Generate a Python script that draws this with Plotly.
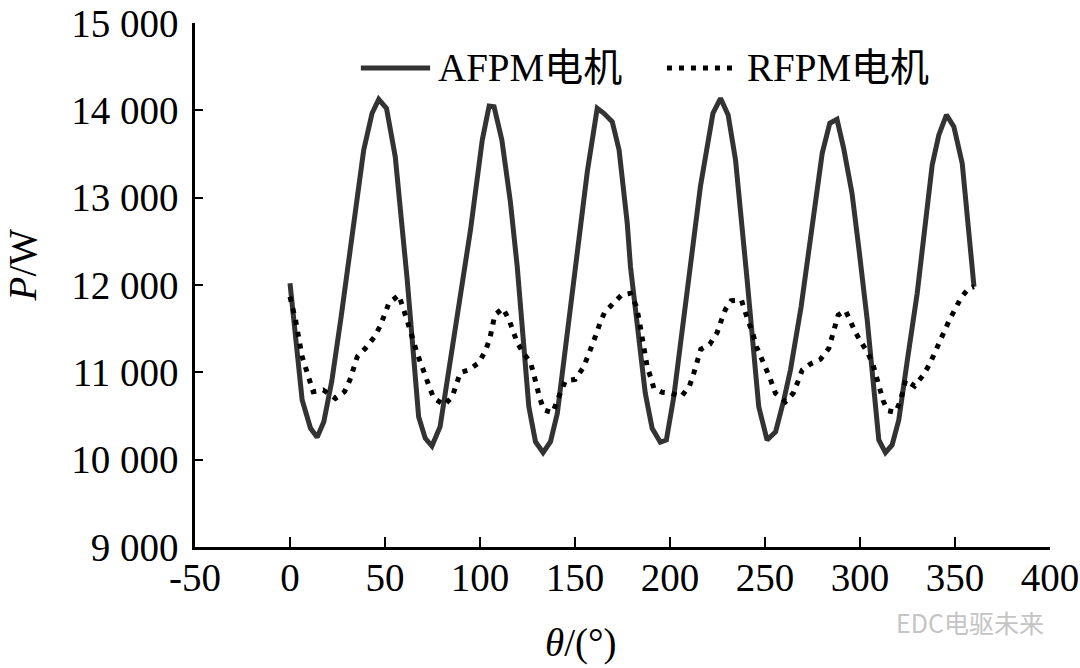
import plotly.graph_objects as go

# AFPM machine power vs rotor angle
afpm_theta = [0, 3.5, 6.4, 10.8, 14.3, 17.8, 22, 27, 32, 38.8, 43.2, 46.7, 50.8, 55.4, 61.7, 65,
              67.7, 71.2, 74.7, 79, 84.5, 90, 95, 101.2, 104.8, 107.4, 111.5, 116, 119.6, 125.7,
              129.2, 133.2, 137.1, 140.7, 146, 151.2, 156.5, 161.7, 165.2, 169.6, 173.2, 177.5,
              179.2, 187, 190.6, 194.9, 198.1, 202, 209, 216, 222.6, 226.6, 230.6, 234.5, 240.6,
              246.7, 251.1, 255.6, 259.9, 263.4, 269, 274.5, 280.1, 284.1, 287.9, 291.4, 295.8,
              299.5, 303.8, 309.9, 313.4, 316.9, 320.4, 325, 330.1, 338, 341.5, 345.5, 349.4,
              353.8, 360]
afpm_power = [12020, 11250, 10683, 10359, 10256, 10435, 10900, 11650, 12450, 13546, 13966, 14126,
              14023, 13469, 12057, 11100, 10492, 10244, 10156, 10378, 11179, 11940, 12630, 13660,
              14050, 14042, 13660, 12950, 12209, 10607, 10206, 10080, 10206, 10531, 11500, 12439,
              13300, 14023, 13966, 13870, 13546, 12706, 12209, 10760, 10359, 10199, 10225, 10721,
              11905, 13126, 13966, 14138, 13947, 13431, 12057, 10607, 10225, 10320, 10683, 11027,
              11750, 12650, 13508, 13852, 13897, 13565, 13050, 12400, 11599, 10225, 10080, 10168,
              10454, 11150, 11905, 13374, 13718, 13947, 13813, 13393, 11981]

# RFPM machine power vs rotor angle
rfpm_theta = [0, 2.9, 6.4, 12.2, 17.5, 23.9, 28.7, 31.5, 35.4, 39.7, 44.5, 47.3, 49.7, 52, 57.3,
              59.6, 61.3, 66.9, 69.4, 71.3, 73.6, 75.7, 81.3, 85.4, 87.6, 89.7, 94.1, 99.4, 102.9,
              105.2, 107.8, 112, 115.2, 117.3, 119.6, 122.7, 126.6, 128.3, 129.7, 131.5, 133.6,
              138.3, 140.6, 142.9, 145, 150.1, 154.1, 156.7, 159.2, 161.2, 163.4, 165.5, 170.1,
              174.5, 179.2, 182.2, 183.6, 184.8, 185.9, 187.1, 188, 190.1, 191.5, 195.9, 200.8,
              205.9, 210.3, 212.5, 214.6, 216.2, 220.9, 224.8, 226.9, 229.2, 232.2, 237.6, 239.4,
              241.8, 243.8, 245.5, 248.5, 250.8, 253.3, 255.5, 260.8, 264.8, 267.3, 269.6, 273.9,
              279.2, 283.6, 285.4, 287.1, 288.5, 292.4, 295, 297.6, 300.6, 304.1, 306.9, 308.7,
              310.4, 312.2, 314.6, 318.7, 321.3, 324, 328.7, 333.3, 336.7, 339.2, 342, 344.5,
              347.3, 350.3, 353.3, 357.3, 360]
rfpm_power = [11866, 11599, 11179, 10778, 10797, 10702, 10778, 10912, 11179, 11275, 11408, 11523,
              11656, 11790, 11885, 11752, 11618, 11218, 11084, 10958, 10817, 10702, 10626, 10721,
              10866, 10996, 11027, 11110, 11248, 11390, 11656, 11733, 11607, 11465, 11340, 11225,
              11110, 10977, 10835, 10702, 10569, 10538, 10675, 10817, 10904, 10920, 11046, 11179,
              11305, 11439, 11580, 11683, 11790, 11885, 11905, 11760, 11618, 11477, 11340, 11206,
              11065, 10924, 10817, 10771, 10760, 10721, 10847, 10989, 11122, 11264, 11321, 11454,
              11588, 11722, 11820, 11828, 11702, 11561, 11427, 11294, 11160, 11027, 10893, 10760,
              10664, 10760, 10893, 11027, 11096, 11149, 11275, 11408, 11542, 11656, 11706, 11580,
              11458, 11344, 11225, 11084, 10950, 10817, 10675, 10561, 10542, 10675, 10912, 10843,
              10969, 11096, 11225, 11351, 11485, 11611, 11733, 11859, 11962, 11981]

x_ticks = [-50, 0, 50, 100, 150, 200, 250, 300, 350, 400]
y_ticks = [9000, 10000, 11000, 12000, 13000, 14000, 15000]
y_tick_labels = ["9 000", "10 000", "11 000", "12 000", "13 000", "14 000", "15 000"]

serif = "Liberation Serif, Times New Roman, Noto Sans CJK SC, serif"

fig = go.Figure()
fig.add_trace(go.Scatter(x=afpm_theta, y=afpm_power, mode="lines", name="AFPM电机",
                         line=dict(color="#333333", width=5)))
fig.add_trace(go.Scatter(x=rfpm_theta, y=rfpm_power, mode="lines", name="RFPM电机",
                         line=dict(color="#000000", width=5, dash="5px,7px")))

fig.update_layout(
    width=1080, height=668,
    margin=dict(l=195, r=30, t=23, b=121),
    plot_bgcolor="white", paper_bgcolor="white",
    showlegend=False,
    font=dict(family=serif, size=39, color="black"),
)
fig.update_xaxes(
    range=[-50, 400], tickvals=x_ticks, ticktext=[str(v) for v in x_ticks],
    showgrid=False, zeroline=False, showline=True, linecolor="black", linewidth=2.5,
    ticks="inside", ticklen=10, tickwidth=2, tickcolor="black", automargin=False,
    ticklabelstandoff=-6,
    tickfont=dict(family=serif, size=39),
)
fig.update_yaxes(
    range=[9000, 15000], tickvals=y_ticks, ticktext=y_tick_labels,
    showgrid=False, zeroline=False, showline=True, linecolor="black", linewidth=2.5,
    ticks="inside", ticklen=8, tickwidth=2, tickcolor="black", automargin=False,
    ticklabelstandoff=6,
    tickfont=dict(family=serif, size=39),
)

# hand-drawn legend with long line samples
fig.add_shape(type="line", xref="paper", yref="paper", x0=0.194, x1=0.275, y0=0.914, y1=0.914,
              line=dict(color="#333333", width=5))
fig.add_shape(type="line", xref="paper", yref="paper", x0=0.552, x1=0.632, y0=0.914, y1=0.914,
              line=dict(color="#000000", width=5, dash="5px,7px"))
fig.add_annotation(text="AFPM电机", xref="paper", yref="paper", x=0.282, y=0.916,
                   xanchor="left", yanchor="middle", showarrow=False, font=dict(size=39))
fig.add_annotation(text="RFPM电机", xref="paper", yref="paper", x=0.643, y=0.916,
                   xanchor="left", yanchor="middle", showarrow=False, font=dict(size=39))

# axis titles
fig.add_annotation(text="<i>P</i>/W", xref="paper", yref="paper", x=-0.202, y=0.538,
                   xanchor="center", yanchor="middle",
                   textangle=-90, showarrow=False, font=dict(size=39))
fig.add_annotation(text="<i>θ</i>/(°)", xref="paper", yref="paper", x=0.451, y=-0.183,
                   xanchor="center", yanchor="middle", showarrow=False, font=dict(size=39))

# watermark
fig.add_annotation(text="EDC电驱未来", xref="paper", yref="paper", x=0.906, y=-0.143,
                   xanchor="center", yanchor="middle", showarrow=False,
                   font=dict(family="Noto Sans CJK SC", size=25, color="#c4c4c4"))

fig.write_html("out.html", config={"displayModeBar": False},
               post_script="document.body.style.margin='0';")
